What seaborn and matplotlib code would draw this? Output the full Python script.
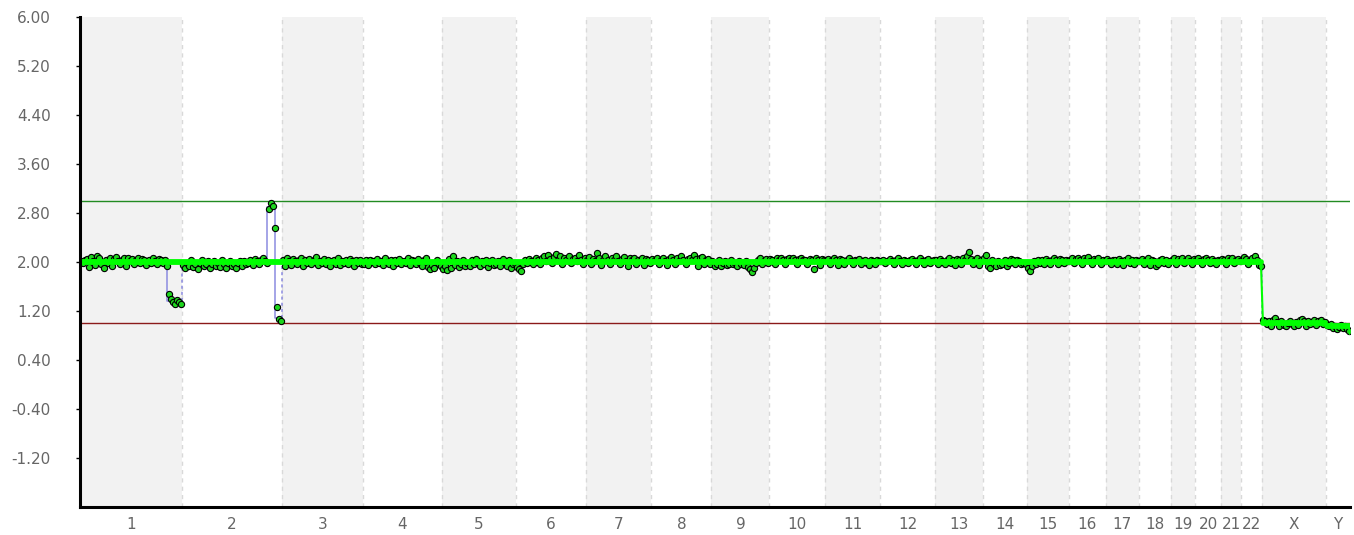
import numpy as np
import pandas as pd
import matplotlib
matplotlib.use("Agg")
import matplotlib.pyplot as plt
import seaborn as sns

# ---------------- data ----------------
CHROMS = ["1", "2", "3", "4", "5", "6", "7", "8", "9", "10", "11", "12",
          "13", "14", "15", "16", "17", "18", "19", "20", "21", "22", "X", "Y"]
CHROM_LENGTHS_MB = [249.25, 243.20, 198.02, 191.15, 180.92, 171.12, 159.14, 146.36,
                    141.21, 135.53, 135.01, 133.85, 115.17, 107.35, 102.53, 90.35,
                    81.20, 78.08, 59.13, 63.03, 48.13, 51.30, 155.27, 59.37]

cn_chr1 = [2.01, 1.98, 2.03, 2.05, 1.92, 2.08, 2.02, 1.95, 2.10, 2.06, 1.97, 1.91, 2.04, 1.99,
           2.06, 1.93, 2.05, 2.08, 2.01, 1.96, 2.03, 2.07, 1.94, 2.06, 2.02, 2.05, 1.97, 2.04,
           2.07, 1.99, 2.05, 2.03, 1.95, 2.04, 1.98, 2.06, 2.02, 1.97, 2.05, 2.03, 1.99, 2.04,
           1.93, 1.48, 1.40, 1.35, 1.32, 1.38, 1.34, 1.31]
cn_chr2 = [1.95, 1.91, 1.98, 1.93, 2.03, 1.92, 1.97, 1.89, 1.99, 2.04, 1.93, 1.96, 2.01, 1.90,
           1.97, 2.02, 1.94, 1.99, 1.92, 2.03, 1.96, 1.91, 1.98, 2.02, 1.93, 1.97, 1.90, 1.99,
           2.01, 1.94, 2.02, 1.96, 1.99, 2.04, 1.95, 2.05, 2.01, 1.97, 2.03, 2.06, 2.02, 1.99,
           2.86, 2.96, 2.91, 2.55, 1.27, 1.07, 1.04]
cn_chr3 = [2.04, 1.93, 2.06, 2.02, 1.95, 2.05, 2.01, 1.96, 2.04, 2.07, 1.94, 2.03, 1.98, 2.05,
           1.97, 2.04, 2.08, 1.95, 2.02, 1.99, 2.05, 1.96, 2.03, 1.94, 2.01, 2.04, 1.97, 2.06,
           1.95, 2.02, 1.98, 2.03, 1.96, 2.05, 2.01, 1.93, 2.04, 1.99, 2.03, 1.96]
cn_chr4 = [1.97, 2.03, 1.95, 2.04, 2.01, 1.96, 2.05, 1.98, 2.02, 1.95, 2.06, 2.00, 1.97, 2.04,
           1.94, 2.03, 1.99, 2.05, 1.96, 2.02, 1.98, 2.06, 1.95, 2.03, 2.01, 1.97, 2.05, 1.99,
           1.94, 2.03, 2.07, 1.92, 1.88, 1.95, 1.90, 2.04, 1.97, 1.93]
cn_chr5 = [1.89, 1.93, 1.87, 2.05, 1.91, 2.09, 1.95, 2.02, 1.92, 1.97, 2.04, 1.94, 1.99, 1.93,
           2.03, 1.96, 2.05, 1.98, 1.94, 2.02, 1.96, 2.04, 1.92, 1.99, 2.03, 1.95, 1.97, 2.02,
           1.93, 2.05, 1.98, 1.94, 2.03, 1.91, 1.96, 1.99]
cn_chr6 = [1.92, 1.88, 1.86, 1.96, 2.03, 1.98, 2.05, 2.01, 1.97, 2.07, 2.03, 1.96, 2.06, 2.09,
           2.02, 2.12, 2.05, 1.98, 2.08, 2.13, 2.04, 2.10, 1.97, 2.06, 2.03, 2.09, 1.98, 2.05,
           2.07, 2.01, 2.11, 2.04, 1.97, 2.06]
cn_chr7 = [2.04, 2.08, 1.96, 2.05, 2.02, 2.14, 2.07, 1.95, 2.04, 2.09, 2.03, 1.96, 2.06, 2.04,
           2.10, 2.02, 1.97, 2.05, 2.08, 2.01, 1.94, 2.06, 2.03, 2.07, 1.97, 2.04, 2.02, 2.06,
           1.95, 2.05, 2.03, 1.98]
cn_chr8 = [2.05, 2.03, 2.07, 1.97, 2.04, 2.06, 2.02, 1.95, 2.05, 2.08, 2.03, 1.96, 2.06, 2.02,
           2.09, 2.04, 1.97, 2.05, 2.07, 2.03, 2.11, 2.05, 1.94, 2.06, 2.08, 1.96, 2.03, 2.05, 1.97]
cn_chr9 = [2.02, 1.94, 1.97, 2.04, 1.93, 1.98, 2.01, 1.95, 1.97, 2.03, 1.96, 1.99, 1.94, 2.02,
           1.97, 1.95, 2.01, 1.92, 1.88, 1.83, 1.90, 1.98, 2.03, 2.06, 1.96, 2.02, 2.05, 1.98]
cn_chr10 = [2.05, 2.04, 1.97, 2.06, 2.03, 2.07, 2.04, 1.96, 2.05, 2.06, 2.04, 2.07, 2.03, 1.96,
            2.05, 2.06, 2.04, 2.03, 1.97, 2.05, 2.04, 1.88, 2.06, 2.04, 1.95, 2.05, 2.03]
cn_chr11 = [2.04, 2.05, 1.96, 2.03, 2.06, 2.04, 1.95, 2.05, 2.03, 1.97, 2.04, 2.06, 2.02, 1.96,
            2.04, 2.03, 2.05, 1.97, 2.02, 2.04, 1.98, 1.95, 2.03, 2.01, 1.97, 2.04, 2.02]
cn_chr12 = [2.01, 2.03, 1.98, 2.02, 2.05, 2.01, 1.97, 2.03, 2.06, 2.02, 1.96, 2.04, 2.01, 1.98,
            2.03, 2.05, 2.02, 1.97, 2.04, 2.06, 2.01, 1.96, 2.03, 2.05, 1.98, 2.02, 2.04]
cn_chr13 = [2.04, 1.97, 2.05, 2.02, 1.96, 2.04, 2.06, 1.98, 2.03, 1.95, 2.05, 2.03, 1.97, 2.06,
            2.04, 2.09, 2.16, 2.05, 1.96, 2.04, 2.07, 1.95, 2.03]
cn_chr14 = [2.06, 2.12, 1.94, 1.91, 2.03, 1.96, 1.93, 2.02, 1.95, 1.97, 2.04, 1.94, 1.98, 2.05,
            2.03, 1.96, 2.04, 2.02, 1.97, 1.99, 1.96]
cn_chr15 = [1.90, 1.85, 1.94, 2.02, 1.96, 2.03, 1.98, 2.04, 1.97, 2.05, 2.02, 1.96, 2.04, 2.06,
            2.03, 1.97, 2.05, 2.03, 1.98, 2.04, 2.01]
cn_chr16 = [2.04, 2.06, 1.98, 2.05, 2.07, 2.03, 1.97, 2.06, 2.04, 2.08, 2.02, 1.96, 2.05, 2.03,
            2.06, 1.97, 2.04, 2.02]
cn_chr17 = [2.05, 2.02, 1.96, 2.04, 2.03, 1.97, 2.05, 2.02, 1.95, 2.04, 2.06, 1.98, 2.03, 1.96,
            2.04, 2.01]
cn_chr18 = [2.02, 2.05, 1.97, 2.03, 2.06, 1.95, 2.04, 2.02, 1.93, 1.97, 2.04, 2.05, 1.98, 2.03,
            1.96, 2.02]
cn_chr19 = [2.03, 2.06, 1.97, 2.05, 2.02, 2.07, 1.98, 2.04, 2.06, 2.02, 1.97, 2.05]
cn_chr20 = [2.04, 2.06, 2.02, 1.97, 2.05, 2.07, 2.03, 1.98, 2.05, 2.02, 1.96, 2.04, 2.03]
cn_chr21 = [2.05, 2.03, 1.97, 2.06, 2.04, 2.07, 1.98, 2.03, 2.05, 2.02]
cn_chr22 = [2.04, 2.08, 2.05, 1.97, 2.03, 2.06, 2.10, 2.04, 1.95, 1.93]
cn_chrX = [1.06, 1.04, 0.98, 1.03, 0.95, 1.05, 1.08, 1.02, 0.96, 1.03, 0.97, 0.95, 1.01, 1.04,
           0.98, 0.96, 1.02, 0.97, 1.05, 1.07, 1.03, 0.96, 1.04, 0.98, 1.02, 1.06, 0.97, 1.03,
           1.05, 0.99, 1.02]
cn_chrY = [0.97, 0.95, 0.99, 0.93, 0.96, 0.91, 0.94, 0.97, 0.92, 0.95, 0.90, 0.88]

CN_VALUES = [cn_chr1, cn_chr2, cn_chr3, cn_chr4, cn_chr5, cn_chr6, cn_chr7, cn_chr8, cn_chr9,
             cn_chr10, cn_chr11, cn_chr12, cn_chr13, cn_chr14, cn_chr15, cn_chr16, cn_chr17,
             cn_chr18, cn_chr19, cn_chr20, cn_chr21, cn_chr22, cn_chrX, cn_chrY]

# expected (baseline) copy number per chromosome
EXPECTED_CN = [2.0] * 22 + [1.0, 0.95]
Y_TAIL_CN = [0.95, 0.82]

# segmentation: breakpoints (Mb within chromosome) and segment values
SEGMENT_BREAKS = [[212.0], [207.0, 226.0]] + [[] for _ in range(22)]
SEGMENT_VALUES = [[2.0, 1.37], [1.97, 2.90, 1.08]] + [[2.0]] * 20 + [[1.0], [0.95]]

GAIN_LINE = 3.0
LOSS_LINE = 1.0
YTICKS = [-1.2, -0.4, 0.4, 1.2, 2.0, 2.8, 3.6, 4.4, 5.2, 6.0]

# ---------------- derived tables ----------------
starts = np.concatenate([[0.0], np.cumsum(CHROM_LENGTHS_MB)[:-1]])
ends = starts + np.array(CHROM_LENGTHS_MB)
total = ends[-1]

rows = []
for ci, (name, vals) in enumerate(zip(CHROMS, CN_VALUES)):
    n = len(vals)
    step = CHROM_LENGTHS_MB[ci] / n
    for k, v in enumerate(vals):
        rows.append({"chrom": name, "pos": starts[ci] + (k + 0.5) * step,
                     "cn": v, "expected": EXPECTED_CN[ci],
                     "group": "A" if ci < 22 else name})
df = pd.DataFrame(rows)

seg_rows = []
for ci in range(len(CHROMS)):
    b = [0.0] + SEGMENT_BREAKS[ci] + [CHROM_LENGTHS_MB[ci]]
    for si, v in enumerate(SEGMENT_VALUES[ci]):
        seg_rows.append({"pos": starts[ci] + b[si], "cn": v, "chrom": CHROMS[ci]})
        seg_rows.append({"pos": starts[ci] + b[si + 1], "cn": v, "chrom": CHROMS[ci]})
seg = pd.DataFrame(seg_rows)

# ---------------- plot ----------------
sns.set_style("white")
plt.rcParams["font.family"] = ["DejaVu Sans"]

fig = plt.figure(figsize=(13.54, 5.35), dpi=100)
ax = fig.add_axes([80 / 1354, 28 / 535, 1270 / 1354, 490 / 535])

for ci in range(len(CHROMS)):
    if ci % 2 == 0:
        ax.axvspan(starts[ci], ends[ci], color="#f2f2f2", lw=0, zorder=0)
for ci in range(1, len(CHROMS)):
    ax.axvline(starts[ci], color="#d9d9d9", lw=1.0, ls=(0, (3, 3)), zorder=0.5)

ax.axhline(GAIN_LINE, color="#228b22", lw=1.0, zorder=1)
ax.axhline(LOSS_LINE, color="#8b1a1a", lw=1.0, zorder=1)

# segment line (solid within chromosome, dashed between)
for name, g in seg.groupby("chrom", sort=False):
    sns.lineplot(data=g, x="pos", y="cn", sort=False, estimator=None, color="#8c8ce0",
                 lw=1.1, ax=ax, zorder=2, legend=False)
chrom_first = seg.groupby("chrom", sort=False).first()
chrom_last = seg.groupby("chrom", sort=False).last()
for ci in range(len(CHROMS) - 1):
    a = chrom_last.loc[CHROMS[ci]]
    b = chrom_first.loc[CHROMS[ci + 1]]
    ax.plot([a["pos"], b["pos"]], [a["cn"], b["cn"]], color="#8c8ce0", lw=1.1,
            ls=(0, (2, 2)), zorder=2)

sns.scatterplot(data=df, x="pos", y="cn", color="#1ed61e", edgecolor="black",
                s=20, linewidth=0.8, ax=ax, zorder=3, legend=False)

# expected baseline: thick within each ploidy group, thin at the transitions
groups = list(dict.fromkeys(df["group"]))
for gname in groups:
    g = df[df["group"] == gname]
    sns.lineplot(data=g, x="pos", y="expected", sort=False, estimator=None, color="#00ff00",
                 lw=4.2, ax=ax, zorder=4, legend=False)
for g1, g2 in zip(groups[:-1], groups[1:]):
    a = df[df["group"] == g1].iloc[-1]
    b = df[df["group"] == g2].iloc[0]
    ax.plot([a["pos"], b["pos"]], [a["expected"], b["expected"]], color="#00ff00",
            lw=1.5, zorder=4)
last_y = df[df["chrom"] == "Y"]["pos"].iloc[-1]
ax.plot([last_y, total], Y_TAIL_CN, color="#00ff00", lw=1.2, zorder=4)

ax.set_xlim(0, total)
ax.set_ylim(-2.0, 6.0)
ax.set_yticks(YTICKS)
ax.set_yticklabels([f"{t:.2f}" for t in YTICKS])
centers = (starts + ends) / 2
ax.set_xticks(centers)
ax.set_xticklabels(CHROMS)
ax.set_xlabel("")
ax.set_ylabel("")

for s in ["top", "right"]:
    ax.spines[s].set_visible(False)
for s in ["left", "bottom"]:
    ax.spines[s].set_linewidth(2.2)
    ax.spines[s].set_color("black")
    ax.spines[s].set_zorder(5)

ax.tick_params(axis="y", length=3, width=1, color="black", pad=18, labelsize=11,
               labelcolor="#666666", left=True)
ax.tick_params(axis="x", length=0, pad=7, labelsize=11, labelcolor="#666666")

fig.savefig("out.png", dpi=100)
